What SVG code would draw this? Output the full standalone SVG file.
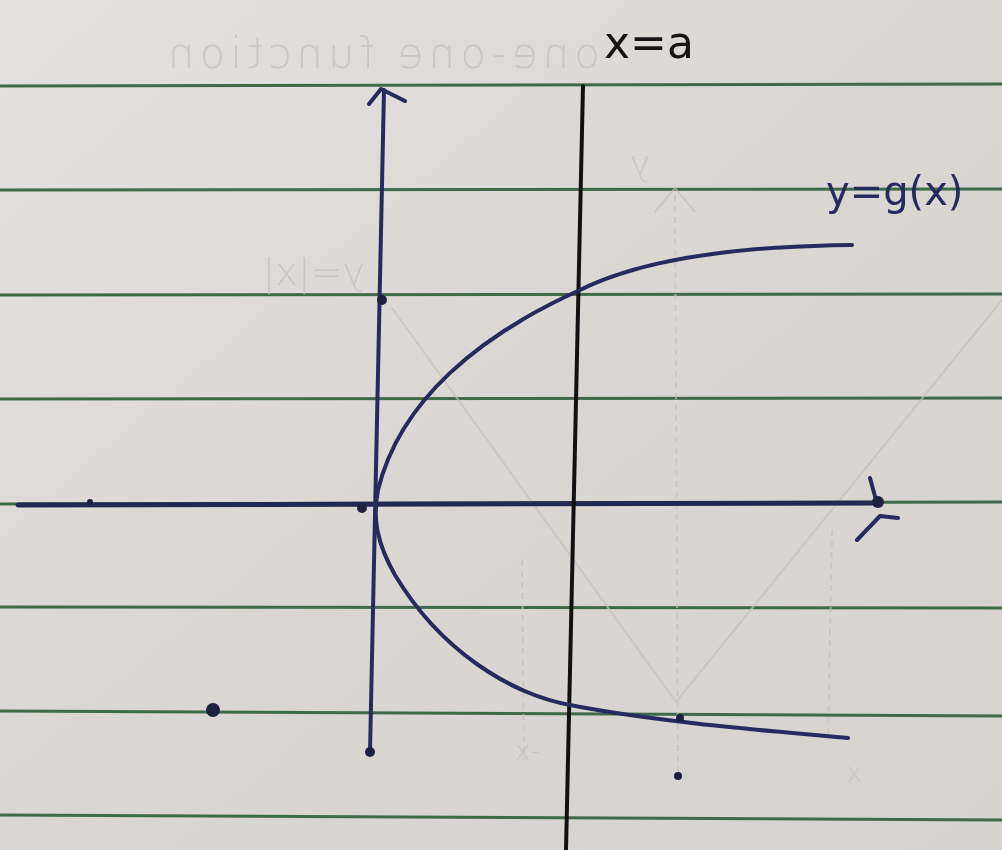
<svg xmlns="http://www.w3.org/2000/svg" width="1002" height="850" viewBox="0 0 1002 850">
<defs>
<linearGradient id="paper" x1="0" y1="0" x2="1" y2="1">
<stop offset="0" stop-color="#e4e2df"/>
<stop offset="0.5" stop-color="#dad6d2"/>
<stop offset="1" stop-color="#d6d2cd"/>
</linearGradient>
<style>
.rule{stroke:#3f6a48;stroke-width:3;fill:none}
.ink{stroke:#262a5e;stroke-width:4;fill:none;stroke-linecap:round;stroke-linejoin:round}
.axis{stroke:#22284f;stroke-width:5;fill:none;stroke-linecap:round}
.blk{stroke:#111;stroke-width:4;fill:none;stroke-linecap:round}
.ghost{stroke:#c4c0bc;stroke-width:2;fill:none}
.ghosttxt{fill:#c2beba;font-family:"DejaVu Sans",sans-serif;font-weight:300}
.dot{fill:#1d2040}
</style>
</defs>
<rect width="1002" height="850" fill="url(#paper)"/>
<g id="rules">
<path class="rule" d="M0 86 L1002 84"/>
<path class="rule" d="M0 190 L1002 189"/>
<path class="rule" d="M0 295 L1002 294"/>
<path class="rule" d="M0 399 L1002 398"/>
<path class="rule" d="M0 504 L1002 502"/>
<path class="rule" d="M0 607 L1002 608"/>
<path class="rule" d="M0 711 L1002 716"/>
<path class="rule" d="M0 815 L1002 820"/>
</g>
<g id="showthrough" opacity="0.7">
<text class="ghosttxt" font-size="42" letter-spacing="5" transform="translate(600,68) scale(-1,1)">one-one function</text>
<text class="ghosttxt" font-size="38" transform="translate(365,285) scale(-1,1)">y=|x|</text>
<text class="ghosttxt" font-size="34" transform="translate(650,175) scale(-1,1)">y</text>
<path class="ghost" d="M392 308 L676 702 L1002 300"/>
<path class="ghost" stroke-dasharray="6 5" d="M675 195 L678 775"/>
<path class="ghost" d="M655 212 L675 188 L695 212"/>
<path class="ghost" stroke-dasharray="6 5" d="M522 560 L524 760"/>
<path class="ghost" stroke-dasharray="6 5" d="M832 530 L828 740"/>
<text class="ghosttxt" font-size="26" transform="translate(540,760) scale(-1,1)">-x</text>
<text class="ghosttxt" font-size="26" transform="translate(862,782) scale(-1,1)">x</text>
</g>
<g id="connectors">
<path id="x-axis" class="axis" d="M18 505 L880 503"/>
<path id="y-axis" class="ink" d="M370 752 L384 90"/>
<path id="x-line" class="blk" d="M583 86 L566 850"/>
</g>
<g id="y-arrow">
<path class="ink" d="M369 104 L381 89 L405 101"/>
</g>
<g id="x-arrow">
<path class="ink" d="M870 478 L876 500"/>
<path class="ink" d="M857 540 L880 516 L898 518"/>
<circle class="dot" cx="878" cy="502" r="6"/>
</g>
<g id="curve">
<path class="ink" d="M852 245 C 760 246 650 255 580 290 C 480 335 400 400 378 490 C 372 520 378 545 395 575 C 440 650 510 695 575 706 C 660 722 760 730 848 738"/>
</g>
<g id="marks">
<circle class="dot" cx="370" cy="752" r="5"/>
<circle class="dot" cx="382" cy="300" r="5"/>
<circle class="dot" cx="362" cy="508" r="5"/>
<circle class="dot" cx="90" cy="502" r="3"/>
<circle class="dot" cx="213" cy="710" r="7"/>
<circle class="dot" cx="678" cy="776" r="4"/>
<circle class="dot" cx="680" cy="718" r="4"/>
</g>
<g id="label-xa">
<text x="604" y="58" font-family="DejaVu Sans, sans-serif" font-size="44" fill="#151515">x=a</text>
</g>
<g id="label-yg">
<text x="826" y="205" font-family="DejaVu Sans, sans-serif" font-size="40" fill="#262a5e">y=g(x)</text>
</g>
</svg>
